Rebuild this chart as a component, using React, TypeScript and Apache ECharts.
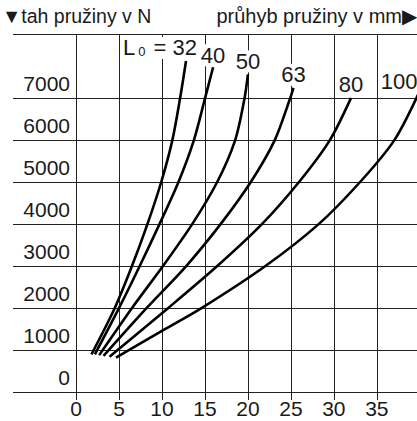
import React, { useEffect, useRef } from 'react';
import * as echarts from 'echarts';

const FONT = '"Liberation Sans", Arial, Helvetica, sans-serif';

// Free lengths L0 of the springs (curve names)
const springLengths = ['32', '40', '50', '63', '80', '100'];

// Deflection (mm) and spring force (N)
const deflection32 = [1.8, 4.5, 6.5, 8.3, 9.9, 11.2, 12.1, 12.8];
const force32 = [900, 2000, 3000, 4000, 5000, 6000, 7000, 7900];

const deflection40 = [2.2, 5.0, 7.4, 9.7, 11.9, 13.7, 15.0, 15.95];
const force40 = [900, 2000, 3000, 4000, 5000, 6000, 7000, 7750];

const deflection50 = [2.7, 6.5, 10.1, 13.5, 16.4, 18.5, 19.6, 20.0];
const force50 = [880, 2000, 3000, 4000, 5000, 6000, 7000, 7580];

const deflection63 = [3.2, 8.2, 12.8, 16.8, 20.3, 23.1, 24.9, 25.3];
const force63 = [860, 2000, 3000, 4000, 5000, 6000, 7000, 7260];

const deflection80 = [3.9, 10.7, 16.4, 21.6, 25.9, 29.5, 32.0];
const force80 = [840, 2000, 3000, 4000, 5000, 6000, 7020];

const deflection100 = [4.65, 10.2, 14.6, 22.0, 28.2, 33.0, 37.0, 39.8];
const force100 = [820, 1480, 2000, 3000, 4000, 5000, 6000, 7100];

// Tick labels
const xTickValues = [0, 5, 10, 15, 20, 25, 30, 35];
const yTickValues = [0, 1000, 2000, 3000, 4000, 5000, 6000, 7000];

const yTitle = '▼tah pružiny v N';
const xTitle = 'průhyb pružiny v mm▶';

const curves = [
  { name: springLengths[0], x: deflection32, y: force32 },
  { name: springLengths[1], x: deflection40, y: force40 },
  { name: springLengths[2], x: deflection50, y: force50 },
  { name: springLengths[3], x: deflection63, y: force63 },
  { name: springLengths[4], x: deflection80, y: force80 },
  { name: springLengths[5], x: deflection100, y: force100 },
];

// label placement (style): pixel offsets relative to curve end
const labelOffsets: [number, number][] = [
  [-26, 0],
  [0, 1],
  [0, 0],
  [0, 0],
  [0, 0],
  [-19, 0],
];

const GRID = '#222';
const TEXT = '#1a1a1a';

export default function App() {
  const ref = useRef<HTMLDivElement>(null);

  useEffect(() => {
    if (!ref.current) return;
    const chart = echarts.init(ref.current, undefined, { renderer: 'svg' });

    const series = curves.map((c, i) => ({
      type: 'line',
      name: c.name,
      smooth: 0.3,
      symbol: 'circle',
      symbolSize: 0,
      showSymbol: true,
      silent: true,
      lineStyle: { color: '#000', width: 2.6 },
      itemStyle: { color: '#000' },
      label: { show: false },
      emphasis: { disabled: true },
      z: 5,
      data: c.x.map((xv, j) =>
        j === c.x.length - 1
          ? {
              value: [xv, c.y[j]],
              label: {
                show: true,
                position: 'top',
                distance: 2,
                offset: labelOffsets[i],
                formatter: i === 0 ? '{l|L}{s|0}{l| = ' + c.name + '}' : c.name,
                backgroundColor: '#fff',
                padding: [0, 1, 0, 1],
                color: TEXT,
                fontFamily: FONT,
                fontSize: 22,
                rich: {
                  l: { fontSize: 22, fontFamily: FONT, color: TEXT },
                  s: {
                    fontSize: 13,
                    fontFamily: FONT,
                    color: TEXT,
                    padding: [8, 2, 0, 3],
                  },
                },
              },
            }
          : [xv, c.y[j]]
      ),
    }));

    chart.setOption({
      animation: false,
      backgroundColor: '#fff',
      title: [
        {
          text: yTitle,
          left: 2,
          top: 6,
          padding: 0,
          textStyle: { fontSize: 19.5, fontWeight: 'normal', color: TEXT, fontFamily: FONT },
        },
        {
          text: xTitle,
          right: 0,
          top: 6,
          padding: 0,
          textStyle: { fontSize: 20, fontWeight: 'normal', color: TEXT, fontFamily: FONT },
        },
      ],
      grid: {
        left: 76,
        right: -20,
        top: 34,
        bottom: 29,
        containLabel: false,
        outerBoundsMode: 'none',
      },
      xAxis: {
        type: 'value',
        min: 0,
        max: 42,
        interval: 5,
        axisLine: { show: false },
        axisTick: {
          show: true,
          length: 8,
          inside: false,
          customValues: xTickValues,
          lineStyle: { color: GRID, width: 1 },
        },
        axisLabel: {
          show: true,
          customValues: xTickValues,
          formatter: (v: number) => String(v),
          margin: 6,
          fontSize: 21,
          color: TEXT,
          fontFamily: FONT,
        },
        splitLine: { show: true, lineStyle: { color: GRID, width: 1 } },
      },
      yAxis: {
        type: 'value',
        min: 0,
        max: 8544,
        interval: 1000,
        axisLine: { show: false },
        axisTick: {
          show: true,
          length: 63,
          inside: false,
          customValues: yTickValues,
          lineStyle: { color: GRID, width: 1 },
        },
        axisLabel: {
          show: true,
          customValues: yTickValues,
          formatter: (v: number) => String(v),
          margin: 6,
          fontSize: 21,
          color: TEXT,
          fontFamily: FONT,
          verticalAlign: 'bottom',
          lineHeight: 30,
        },
        splitLine: { show: true, lineStyle: { color: GRID, width: 1 } },
      },
      graphic: [
        {
          type: 'line',
          silent: true,
          shape: { x1: 13, y1: 34.5, x2: 417, y2: 34.5 },
          style: { stroke: GRID, lineWidth: 1 },
        },
      ],
      series,
    });

    return () => chart.dispose();
  }, []);

  return (
    <div
      ref={ref}
      style={{ position: 'fixed', left: 0, top: 0, width: 417, height: 421, background: '#fff' }}
    />
  );
}
